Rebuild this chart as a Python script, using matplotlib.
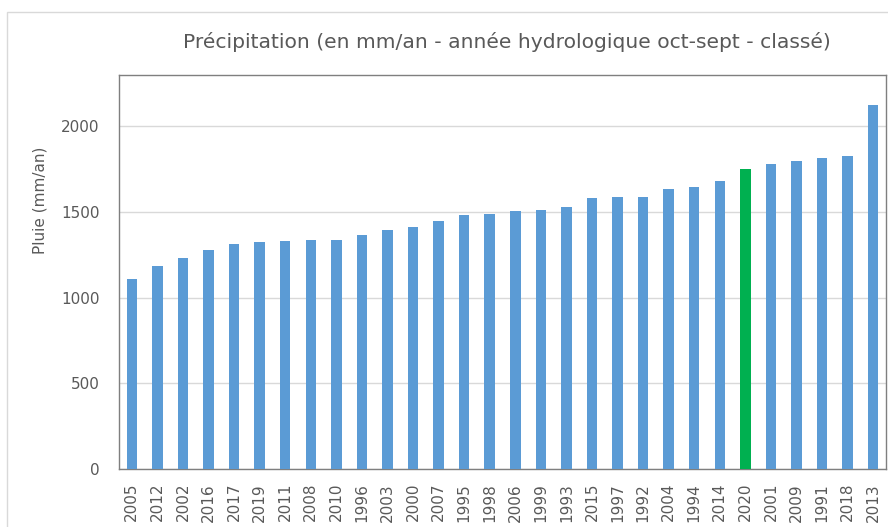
import matplotlib.pyplot as plt
from matplotlib.patches import Rectangle

# Yearly rainfall sorted ascending (hydrological year Oct-Sept)
years = ["2005", "2012", "2002", "2016", "2017", "2019", "2011", "2008", "2010", "1996",
         "2003", "2000", "2007", "1995", "1998", "2006", "1999", "1993", "2015", "1997",
         "1992", "2004", "1994", "2014", "2020", "2001", "2009", "1991", "2018", "2013"]
rain = [1108, 1184, 1232, 1281, 1316, 1324, 1331, 1335, 1339, 1366,
        1394, 1413, 1450, 1483, 1487, 1508, 1512, 1528, 1584, 1586,
        1590, 1637, 1644, 1683, 1749, 1778, 1796, 1815, 1825, 2122]
highlight = "2020"

blue = "#5B9BD5"
green = "#00B050"
text_col = "#595959"

fig = plt.figure(figsize=(8.88, 5.27), dpi=100)
ax = fig.add_axes([119/888, 1 - 469/527, (886 - 119)/888, (469 - 75)/527])

colors = [green if y == highlight else blue for y in years]
ax.bar(range(len(years)), rain, width=0.41, color=colors, zorder=3)

ax.set_xlim(-0.5, len(years) - 0.5)
ax.set_ylim(0, 2300)
ax.set_yticks([0, 500, 1000, 1500, 2000])
ax.grid(axis="y", color="#D9D9D9", linewidth=1, zorder=0)
ax.set_xticks(range(len(years)))
ax.set_xticklabels(years, rotation=90)
ax.tick_params(axis="both", length=0, labelsize=11, labelcolor=text_col)
ax.tick_params(axis="x", pad=10)
ax.tick_params(axis="y", pad=14)
for s in ax.spines.values():
    s.set_color("#7F7F7F")
    s.set_linewidth(1)

fig.text(507/888, 1 - 42/527, "Précipitation (en mm/an - année hydrologique oct-sept - classé)",
         ha="center", va="center", fontsize=14.6, color=text_col)
fig.text(40/888, 1 - 200/527, "Pluie (mm/an)", rotation=90, ha="center", va="center",
         fontsize=11, color=text_col)

# outer chart frame
fig.patches.append(Rectangle((7/888, -0.1), 1.0, 1 - 12/527 + 0.1, transform=fig.transFigure,
                             fill=False, edgecolor="#D9D9D9", linewidth=1))

fig.savefig("out.png", dpi=100)
